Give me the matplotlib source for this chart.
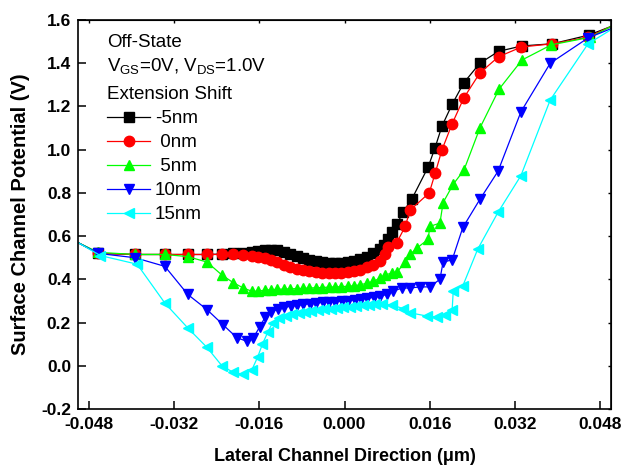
import matplotlib
matplotlib.use("Agg")
import matplotlib.pyplot as plt
from matplotlib.lines import Line2D
import numpy as np

plt.rcParams['font.family'] = ['Liberation Sans', 'DejaVu Sans']
plt.rcParams['mathtext.fontset'] = 'custom'
plt.rcParams['mathtext.rm'] = 'Liberation Sans'
plt.rcParams['mathtext.default'] = 'regular'

# ---------------- data ----------------
black_x = [-0.0500, -0.0462, -0.0393, -0.0337, -0.0294, -0.0258, -0.0230, -0.0209, -0.0190, -0.0174,
           -0.0162, -0.0150, -0.0138, -0.0126, -0.0114, -0.0102, -0.0090, -0.0078, -0.0066, -0.0054,
           -0.0042, -0.0030, -0.0018, -0.0006, 0.0006, 0.0018, 0.0030, 0.0042, 0.0054, 0.0066,
           0.0074, 0.0082, 0.0090, 0.0099, 0.0109, 0.0126, 0.0157, 0.0170, 0.0183, 0.0202,
           0.0224, 0.0254, 0.0289, 0.0333, 0.0390, 0.0458, 0.0500]
black_y = [0.57, 0.52, 0.515, 0.515, 0.515, 0.515, 0.517, 0.52, 0.524, 0.528,
           0.533, 0.537, 0.538, 0.535, 0.528, 0.518, 0.508, 0.498, 0.49, 0.484,
           0.48, 0.477, 0.476, 0.477, 0.48, 0.487, 0.495, 0.505, 0.52, 0.54,
           0.56, 0.585, 0.62, 0.655, 0.71, 0.77, 0.92, 1.01, 1.11, 1.21,
           1.31, 1.40, 1.455, 1.48, 1.49, 1.53, 1.57]

red_x = [-0.0500, -0.0462, -0.0393, -0.0337, -0.0294, -0.0258, -0.0230, -0.0209, -0.0190, -0.0174,
         -0.0162, -0.0150, -0.0138, -0.0126, -0.0114, -0.0102, -0.0090, -0.0078, -0.0066, -0.0054,
         -0.0042, -0.0030, -0.0018, -0.0006, 0.0006, 0.0018, 0.0030, 0.0042, 0.0054, 0.0066,
         0.0076, 0.0082, 0.0098, 0.0114, 0.0123, 0.0159, 0.0170, 0.0183, 0.0202, 0.0224,
         0.0254, 0.0289, 0.0332, 0.0390, 0.0456, 0.0500]
red_y = [0.57, 0.52, 0.515, 0.515, 0.515, 0.515, 0.515, 0.515, 0.512, 0.508,
         0.503, 0.497, 0.49, 0.48, 0.468, 0.457, 0.448, 0.442, 0.437, 0.433,
         0.431, 0.43, 0.43, 0.43, 0.432, 0.437, 0.445, 0.455, 0.468, 0.485,
         0.515, 0.55, 0.57, 0.645, 0.72, 0.80, 0.89, 1.00, 1.12, 1.24,
         1.355, 1.43, 1.475, 1.49, 1.52, 1.57]

green_x = [-0.0500, -0.0462, -0.0393, -0.0337, -0.0294, -0.0258, -0.0230, -0.0209, -0.0190, -0.0174,
           -0.0162, -0.0150, -0.0138, -0.0126, -0.0114, -0.0102, -0.0090, -0.0078, -0.0066, -0.0054,
           -0.0042, -0.0030, -0.0018, -0.0006, 0.0006, 0.0018, 0.0030, 0.0042, 0.0054, 0.0066,
           0.0076, 0.0090, 0.0099, 0.0114, 0.0123, 0.0136, 0.0157, 0.0160, 0.0179, 0.0185,
           0.0204, 0.0224, 0.0254, 0.0290, 0.0333, 0.0388, 0.0461, 0.0500]
green_y = [0.57, 0.525, 0.515, 0.515, 0.505, 0.48, 0.42, 0.385, 0.36, 0.345,
           0.345, 0.35, 0.352, 0.354, 0.355, 0.356, 0.357, 0.358, 0.36, 0.361,
           0.362, 0.364, 0.365, 0.366, 0.368, 0.37, 0.375, 0.382, 0.39, 0.405,
           0.42, 0.43, 0.435, 0.48, 0.515, 0.545, 0.585, 0.645, 0.66, 0.755,
           0.84, 0.905, 1.10, 1.28, 1.415, 1.485, 1.52, 1.57]

blue_x = [-0.0500, -0.0462, -0.0393, -0.0337, -0.0294, -0.0258, -0.0228, -0.0202, -0.0183, -0.0171,
          -0.0159, -0.0149, -0.0137, -0.0125, -0.0113, -0.0101, -0.0089, -0.0077, -0.0065, -0.0053,
          -0.0041, -0.0029, -0.0017, -0.0005, 0.0007, 0.0019, 0.0031, 0.0043, 0.0055, 0.0067,
          0.0079, 0.0091, 0.0108, 0.0123, 0.0142, 0.0160, 0.0179, 0.0185, 0.0202, 0.0222,
          0.0254, 0.0288, 0.0331, 0.0386, 0.0457, 0.0500]
blue_y = [0.57, 0.52, 0.50, 0.46, 0.33, 0.26, 0.19, 0.13, 0.113, 0.13,
          0.18, 0.225, 0.25, 0.262, 0.27, 0.276, 0.28, 0.284, 0.287, 0.29,
          0.293, 0.295, 0.297, 0.30, 0.302, 0.305, 0.308, 0.312, 0.317, 0.322,
          0.33, 0.345, 0.36, 0.36, 0.365, 0.365, 0.40, 0.48, 0.49, 0.64,
          0.77, 0.90, 1.175, 1.40, 1.517, 1.56]

cyan_x = [-0.0500, -0.0458, -0.0389, -0.0337, -0.0294, -0.0258, -0.0230, -0.0209, -0.0190, -0.0174,
          -0.0163, -0.0154, -0.0144, -0.0135, -0.0122, -0.0110, -0.0098, -0.0086, -0.0074, -0.0062,
          -0.0050, -0.0038, -0.0026, -0.0014, -0.0002, 0.0010, 0.0022, 0.0034, 0.0046, 0.0058,
          0.0070, 0.0090, 0.0110, 0.0123, 0.0155, 0.0174, 0.0189, 0.0202, 0.0204, 0.0222,
          0.0250, 0.0288, 0.0331, 0.0386, 0.0457, 0.0500]
cyan_y = [0.57, 0.51, 0.47, 0.29, 0.175, 0.085, 0.0, -0.03, -0.04, -0.02,
          0.04, 0.10, 0.155, 0.20, 0.22, 0.232, 0.24, 0.246, 0.25, 0.254,
          0.258, 0.261, 0.264, 0.267, 0.27, 0.273, 0.276, 0.279, 0.282, 0.285,
          0.287, 0.28, 0.265, 0.245, 0.23, 0.225, 0.235, 0.26, 0.345, 0.37,
          0.54, 0.71, 0.88, 1.23, 1.49, 1.555]

series_labels = ['-5nm', ' 0nm', ' 5nm', '10nm', '15nm']
series_colors = ['#000000', '#ff0000', '#00ff00', '#0000ff', '#00ffff']
series_markers = ['s', 'o', '^', 'v', '<']
series_ms = [6.5, 7.5, 7.5, 7.5, 7.5]
series_x = [black_x, red_x, green_x, blue_x, cyan_x]
series_y = [black_y, red_y, green_y, blue_y, cyan_y]

x_ticks = [-0.048, -0.032, -0.016, 0.000, 0.016, 0.032, 0.048]
y_ticks = [-0.2, 0.0, 0.2, 0.4, 0.6, 0.8, 1.0, 1.2, 1.4, 1.6]

# ---------------- figure ----------------
fig = plt.figure(figsize=(6.24, 4.68), dpi=100)
ax = fig.add_axes([78/624, 1-409/468, (611-78)/624, (409-20)/468])

handles = []
for xs, ys, c, m, ms, lab in zip(series_x, series_y, series_colors, series_markers, series_ms, series_labels):
    ax.plot(xs, ys, color=c, lw=0.9, marker=m, ms=ms, mec=c, mfc=c,
            markevery=slice(1, len(xs) - 1))
    handles.append(Line2D([], [], color=c, lw=0.9, marker=m, ms=ms, mec=c, mfc=c, label=lab))

ax.set_xlim(-0.05, 0.05)
ax.set_ylim(-0.2, 1.6)
ax.set_xticks(x_ticks)
ax.set_xticklabels(['%.3f' % v for v in x_ticks])
ax.set_yticks(y_ticks)
ax.set_yticklabels(['%.1f' % v for v in y_ticks])
ax.tick_params(direction='in', length=6, width=1.1, labelsize=12.5)
ax.tick_params(axis='x', pad=6)
ax.tick_params(axis='y', pad=5)
for lbl in ax.get_xticklabels() + ax.get_yticklabels():
    lbl.set_fontweight('bold')
for sp in ax.spines.values():
    sp.set_linewidth(1.2)

secx = ax.secondary_xaxis('top')
secx.set_xticks(x_ticks)
secx.tick_params(direction='in', length=2.5, width=1.0, labeltop=False)
secy = ax.secondary_yaxis('right')
secy.set_yticks(y_ticks)
secy.tick_params(direction='in', length=2.5, width=1.0, labelright=False)

ax.set_xlabel('Lateral Channel Direction (\u03bcm)', fontsize=13, fontweight='bold', labelpad=11)
ax.set_ylabel('Surface Channel Potential (V)', fontsize=14.5, fontweight='bold', labelpad=8)

tx = (107 - 78) / 533
ax.text(tx, (409 - 46.7) / 389, 'Off-State', transform=ax.transAxes, fontsize=13.5, va='baseline')
ax.text(tx, (409 - 71) / 389, r'V$_{GS}$=0V, V$_{DS}$=1.0V', transform=ax.transAxes, fontsize=13.5, va='baseline')
ax.text(tx, (409 - 99.3) / 389, 'Extension Shift', transform=ax.transAxes, fontsize=13.5, va='baseline')

leg = ax.legend(handles=handles, loc='upper left', bbox_to_anchor=(tx, (409 - 110) / 389),
                frameon=False, fontsize=13.5, borderpad=0, borderaxespad=0,
                handlelength=2.3, handletextpad=0.25, labelspacing=0.37)

fig.savefig('out.png', dpi=100)
